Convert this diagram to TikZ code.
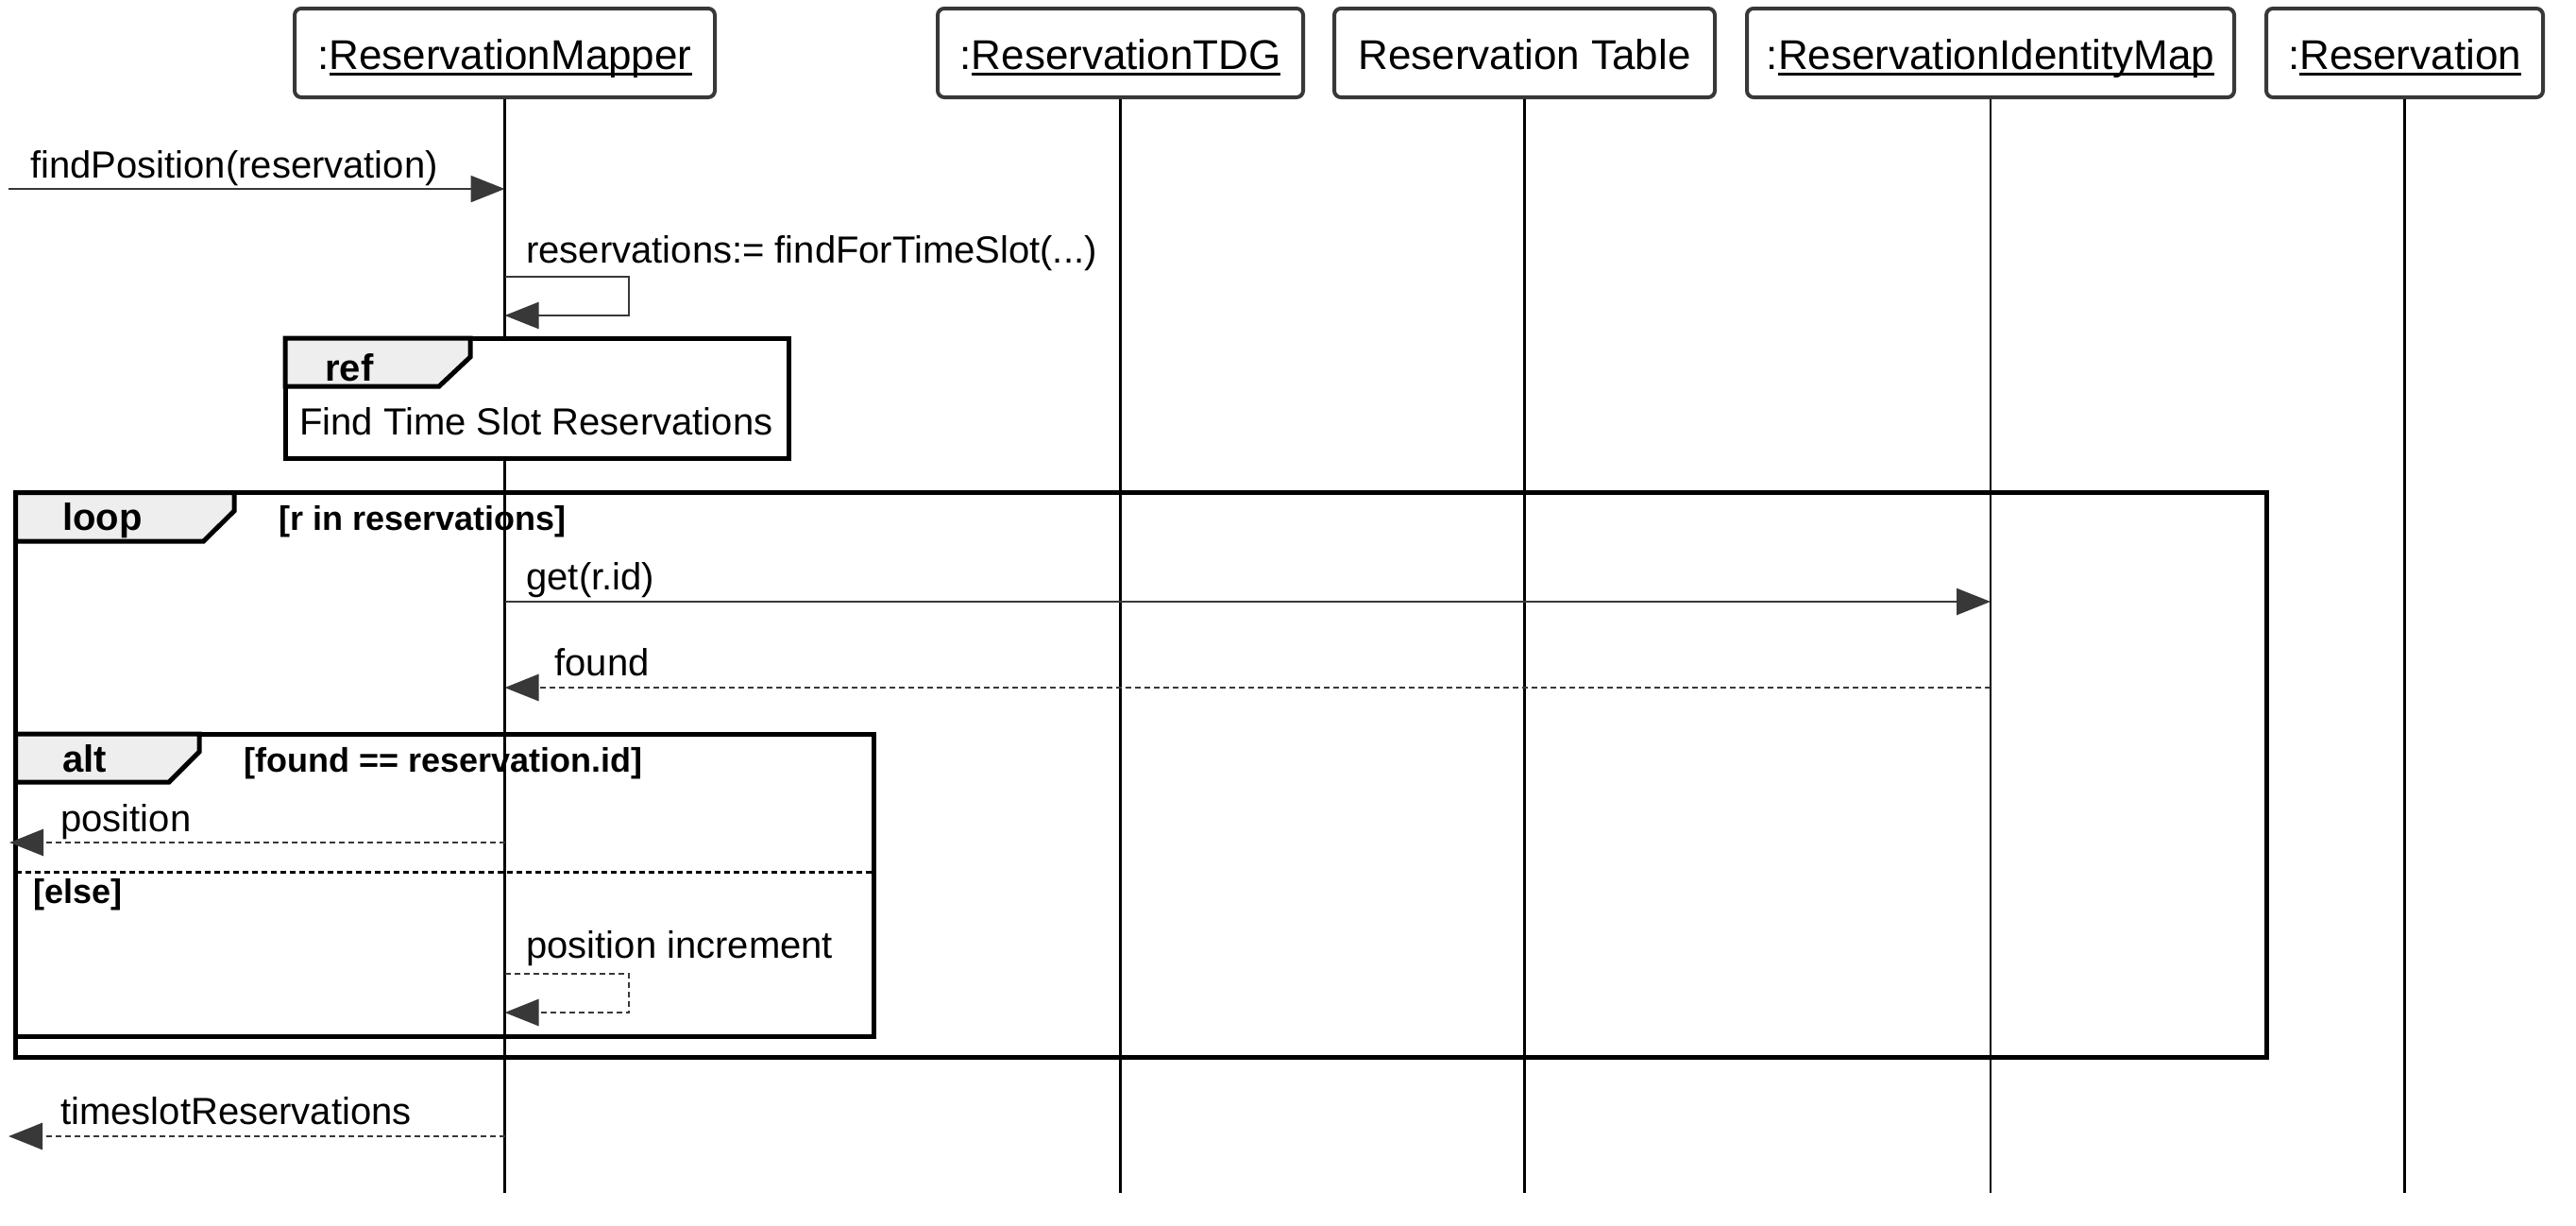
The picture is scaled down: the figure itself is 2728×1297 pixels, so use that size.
\documentclass[tikz,border=0pt]{standalone}
\usepackage{fontspec}
\setmainfont{Liberation Sans}
\usetikzlibrary{arrows.meta}
\definecolor{ink}{HTML}{383838}
\definecolor{tabfill}{HTML}{EEEEEE}
\newcommand\myul[1]{\setbox0\hbox{#1}\rlap{\rule[-3.5pt]{\wd0}{1.4pt}}\box0}
\tikzset{
  headbox/.style={draw=ink, line width=2pt, rounded corners=3.5pt, fill=white, inner sep=0pt, minimum height=47pt},
  headtxt/.style={anchor=base, font=\fontsize{22}{26}\selectfont, inner sep=0pt},
  lbl/.style={anchor=base west, font=\fontsize{20}{24}\selectfont, inner sep=0pt},
  life/.style={line width=1.25pt, draw=black},
  msg/.style={draw=ink, line width=1.25pt, -{Triangle[length=18pt,width=14pt]}},
  ret/.style={msg, line width=1.4pt, dash pattern=on 3pt off 2pt},
  frame/.style={draw=black, line width=2.5pt},
  tabshape/.style={frame, fill=tabfill},
  tabtxt/.style={anchor=base west, font=\bfseries\fontsize{20}{24}\selectfont, inner sep=0pt},
  guard/.style={anchor=base west, font=\bfseries\fontsize{18}{22}\selectfont, inner sep=0pt},
  sep/.style={draw=black, line width=1.5pt, dash pattern=on 3pt off 2pt}
}
\begin{document}
\begin{tikzpicture}[x=0.5pt,y=-0.5pt]
\fill[white] (0,0) rectangle (2728,1297);
\useasboundingbox (0,0) rectangle (2728,1297);

% participant heads
\node[headbox, minimum width=222.5pt] (hM) at (534.5,56) {};
\node[headbox, minimum width=193.5pt] (hT) at (1186.5,56) {};
\node[headbox, minimum width=201.5pt] (hB) at (1614.5,56) {};
\node[headbox, minimum width=258pt]   (hI) at (2108,56) {};
\node[headbox, minimum width=146.5pt] (hR) at (2546.5,56) {};
\node[headtxt] (tM) at (534.5,73) {:\myul{ReservationMapper}};
\node[headtxt] (tT) at (1186.5,73) {:\myul{ReservationTDG}};
\node[headtxt] (tB) at (1614.5,73) {Reservation Table};
\node[headtxt] (tI) at (2108,73) {:\myul{ReservationIdentityMap}};
\node[headtxt] (tR) at (2546.5,73) {:\myul{Reservation}};

% lifelines
\coordinate (bot) at (0,1263);
\draw[life] (hM.south) -- (hM |- bot);
\draw[life] (hT.south) -- (hT |- bot);
\draw[life] (hB.south) -- (hB |- bot);
\draw[life] (hI.south) -- (hI |- bot);
\draw[life] (hR.south) -- (hR |- bot);

% findPosition
\coordinate (s1) at (9,200);
\draw[msg] (s1) -- (hM |- s1);
\node[lbl] (l1) at (32,188) {findPosition(reservation)};

% self call
\coordinate (r2a) at (666,293);
\coordinate (r2b) at (666,334);
\draw[msg] (hM |- r2a) -- (r2a) -- (r2b) -- (hM |- r2b);
\node[lbl] (l2) at (557,278) {reservations:= findForTimeSlot(...)};

% ref frame
\draw[frame, fill=white] (302,358) rectangle (835,485);
\draw[tabshape] (302,358) -- (498,358) -- (498,378) -- (465,409) -- (302,409) -- cycle;
\node[tabtxt] (tref) at (344,403) {ref};
\node[lbl] (lref) at (317,460) {Find Time Slot Reservations};

% loop frame
\draw[frame] (16.5,521.5) rectangle (2400,1119);
\draw[tabshape] (16.5,521.5) -- (248,521.5) -- (248,541) -- (215.5,573) -- (16.5,573) -- cycle;
\node[tabtxt] (tloop) at (66,561) {loop};
\node[guard] (gloop) at (295,561) {[r in reservations]};

% get
\coordinate (g3) at (0,637);
\draw[msg] (hM |- g3) -- (hI |- g3);
\node[lbl] (l3) at (557,624) {get(r.id)};

% found
\coordinate (g4) at (0,728);
\draw[ret] (hI |- g4) -- (hM |- g4);
\node[lbl] (l4) at (587,715) {found};

% alt frame
\draw[frame] (16.5,777) rectangle (925,1097);
\draw[tabshape] (16.5,777) -- (211,777) -- (211,796) -- (179,828) -- (16.5,828) -- cycle;
\node[tabtxt] (talt) at (66,817) {alt};
\node[guard] (galt) at (258,817) {[found == reservation.id]};

% position
\coordinate (s5) at (10,892);
\draw[ret] (hM |- s5) -- (s5);
\node[lbl] (l5) at (64,880) {position};

% else separator
\coordinate (e1) at (16.5,923);
\coordinate (e2) at (925,923);
\draw[sep] (e1) -- (e2);
\node[guard] (gelse) at (35.5,956) {[else]};

% position increment
\coordinate (r6a) at (666,1031);
\coordinate (r6b) at (666,1072);
\draw[ret] (hM |- r6a) -- (r6a) -- (r6b) -- (hM |- r6b);
\node[lbl] (l6) at (557,1014) {position increment};

% timeslotReservations
\coordinate (s7) at (9,1203);
\draw[ret] (hM |- s7) -- (s7);
\node[lbl] (l7) at (64,1190) {timeslotReservations};
\end{tikzpicture}
\end{document}
